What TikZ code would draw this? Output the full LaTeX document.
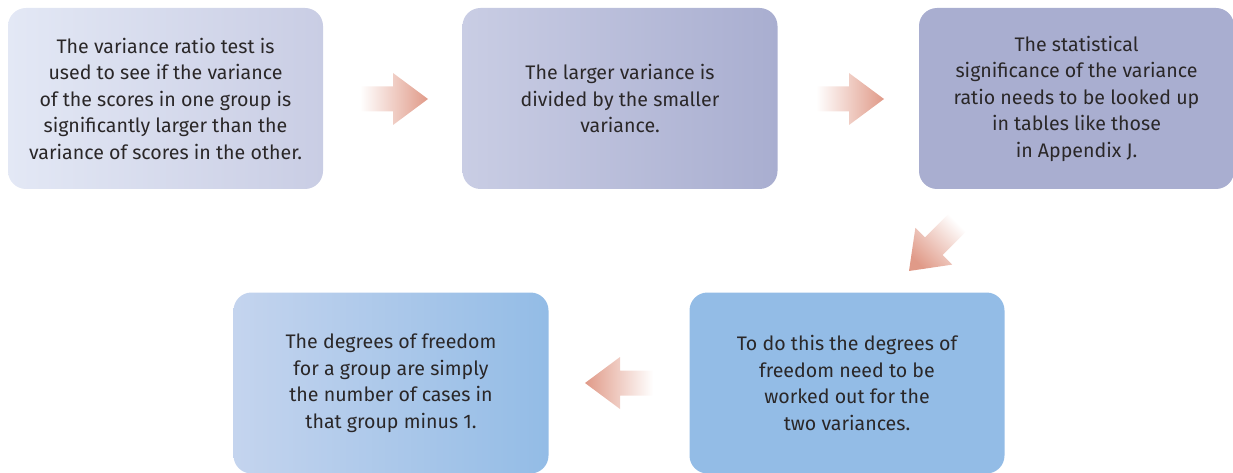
\documentclass[tikz,border=0pt]{standalone}
\usepackage{fontspec}
\setmainfont{Fira Sans}
\usetikzlibrary{calc}
\definecolor{txt}{HTML}{2A2728}
\definecolor{bA}{HTML}{E3E8F5}
\definecolor{bB}{HTML}{C9CDE4}
\definecolor{bC}{HTML}{A9AED0}
\definecolor{bD}{HTML}{93BCE6}
\definecolor{bE}{HTML}{C4D4EE}
\definecolor{arr}{HTML}{E09A88}
\tikzset{
  stepbox/.style={rounded corners=18pt, minimum width=315pt, minimum height=181pt,
    align=center, text=txt, font=\fontsize{19.6}{26.5}\selectfont, inner sep=0pt},
}
% block arrow pointing along +x, tip at the origin; #4 sets the shading
\newcommand{\blockarrow}[4]{% position, angle, name, shading
  \begin{scope}[shift={#1}, rotate=#2]
    \shade[#4]
      (-68,-12.5) -- (-35,-12.5) -- (-35,-26) -- (0,0) -- (-35,26) -- (-35,12.5) -- (-68,12.5) -- cycle;
    \coordinate (#3) at (0,0);
  \end{scope}}
\begin{document}
\begin{tikzpicture}[x=1pt, y=-1pt]
  \useasboundingbox (0,0) rectangle (1233,473);
  \node[stepbox, left color=bA, right color=bB] (s1) at (165.5,98.5)
    {The variance ratio test is\\used to see if the variance\\of the scores in one group is\\significantly larger than the\\variance of scores in the other.};
  \node[stepbox, left color=bB, right color=bC] (s2) at (620,98.5)
    {The larger variance is\\divided by the smaller\\variance.};
  \node[stepbox, fill=bC] (s3) at (1076.5,98.5)
    {The statistical\\significance of the variance\\ratio needs to be looked up\\in tables like those\\in Appendix J.};
  \node[stepbox, fill=bD] (s4) at (847,383)
    {To do this the degrees of\\freedom need to be\\worked out for the\\two variances.};
  \node[stepbox, left color=bE, right color=bD] (s5) at (391,383)
    {The degrees of freedom\\for a group are simply\\the number of cases in\\that group minus 1.};
  \blockarrow{(428,99)}{0}{a1}{left color=white, right color=arr}
  \blockarrow{(884,99)}{0}{a2}{left color=white, right color=arr}
  \blockarrow{(909,271)}{-135}{a3}{left color=white, right color=arr, shading angle=-45}
  \blockarrow{(585,383)}{180}{a4}{left color=arr, right color=white}
\end{tikzpicture}
\end{document}
